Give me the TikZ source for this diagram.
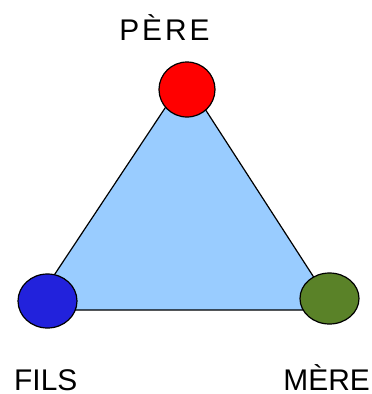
\documentclass[tikz,border=0pt]{standalone}
\usepackage{fontspec}
\setmainfont{Liberation Sans}
\usetikzlibrary{shapes.geometric}
\definecolor{ciel}{RGB}{153,204,255}
\definecolor{bleu}{RGB}{34,34,220}
\definecolor{vert}{RGB}{90,130,40}
\tikzset{
  sommet/.style={ellipse,draw=black,line width=1.2bp,inner sep=0pt},
  nom/.style={inner sep=0pt,font=\fontsize{30}{36}\selectfont}
}
\begin{document}
\begin{tikzpicture}[x=1bp,y=-1bp]
\useasboundingbox (0,0) rectangle (372,394);

\coordinate (a) at (185,78);
\coordinate (b) at (31,310);
\coordinate (c) at (335,310);
\draw[fill=ciel,line width=1.2bp,line join=round] (a) -- (b) -- (c) -- cycle;

\node[sommet,fill=red,minimum width=56bp,minimum height=55bp] (pere) at (187,89.5) {};
\node[sommet,fill=bleu,minimum width=59bp,minimum height=54bp] (fils) at (47.5,301) {};
\node[sommet,fill=vert,minimum width=59bp,minimum height=51bp] (mere) at (329.5,298.5) {};

\node[nom,anchor=base] (pereL) at (164.5,40) {\addfontfeature{LetterSpace=10}PÈRE};
\node[nom,anchor=base west] (filsL) at (14,390) {FILS};
\node[nom,anchor=base east] (mereL) at (370,390) {MÈRE};
\end{tikzpicture}
\end{document}
